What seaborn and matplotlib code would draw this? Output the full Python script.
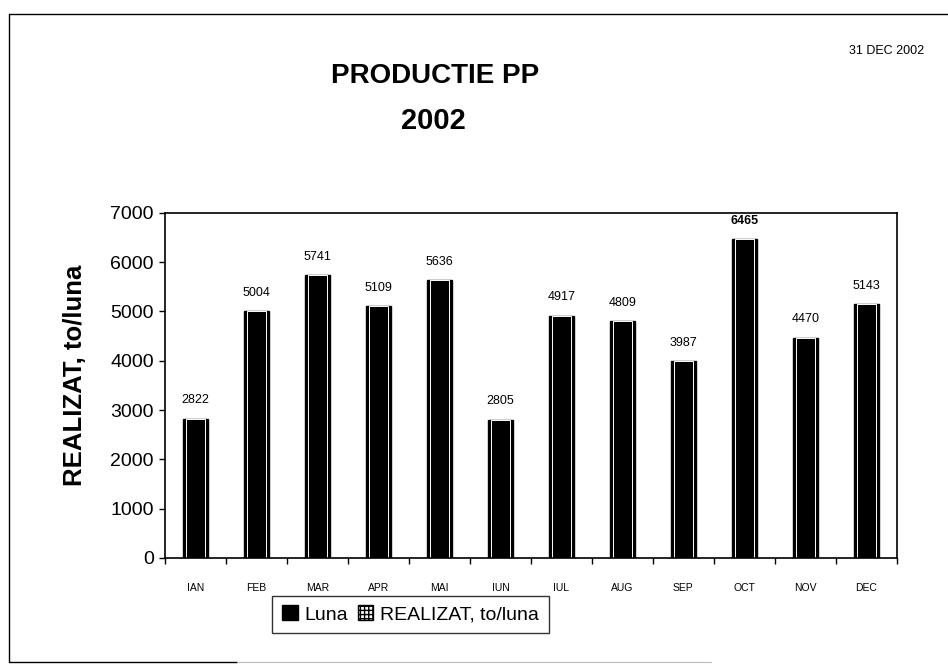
import matplotlib
matplotlib.use("Agg")
import matplotlib.pyplot as plt
import matplotlib.patches as mpatches
import matplotlib.lines as mlines
import seaborn as sns
import pandas as pd
import numpy as np

months = ["IAN", "FEB", "MAR", "APR", "MAI", "IUN", "IUL", "AUG", "SEP", "OCT", "NOV", "DEC"]
values = [2822, 5004, 5741, 5109, 5636, 2805, 4917, 4809, 3987, 6465, 4470, 5143]
labels = ["2822", "5004", "5741", "5109", "5636", "2805", "4917", "4809", "3987", "6465", "4470", "5143"]
y_ticks = [0, 1000, 2000, 3000, 4000, 5000, 6000, 7000]

sns.set_style("white")
plt.rcParams['font.family'] = ['Liberation Sans', 'DejaVu Sans']
plt.rcParams['text.color'] = 'black'
plt.rcParams['axes.labelcolor'] = 'black'
plt.rcParams['xtick.color'] = 'black'
plt.rcParams['ytick.color'] = 'black'

df = pd.DataFrame({"Luna": months, "REALIZAT": values})

fig = plt.figure(figsize=(9.48, 6.65), dpi=100)
ax = fig.add_axes([0.174, 0.161, 0.772, 0.519])

sns.barplot(data=df, x="Luna", y="REALIZAT", color="black", width=0.41,
            edgecolor="black", linewidth=1.0, saturation=1, ax=ax)
# inner white outline
sns.barplot(data=df, x="Luna", y="REALIZAT", width=0.31, fill=False,
            edgecolor="white", linewidth=0.7, ax=ax)

ax.set_ylim(0, 7000)
ax.set_xlim(-0.5, len(months) - 0.5)
ax.set_yticks(y_ticks)
ax.set_yticklabels([str(t) for t in y_ticks], fontsize=14)
ax.set_xticks(range(len(months)))
ax.set_xticklabels(months, fontsize=7.5)
ax.tick_params(axis="x", length=0, pad=18)
ax.tick_params(axis="y", length=4, width=1, direction="out", left=True, pad=4)
# category boundary ticks
ax.set_xticks(np.arange(-0.5, len(months) + 0.5, 1), minor=True)
ax.tick_params(axis="x", which="minor", length=4, width=1, direction="out", bottom=True)

for s in ax.spines.values():
    s.set_color("black")
    s.set_linewidth(1.2)

ax.set_xlabel("")
ax.set_ylabel("REALIZAT, to/luna", fontsize=18.5, fontweight="bold")
ax.yaxis.set_label_coords(-0.106, 0.53)

for i, (v, t) in enumerate(zip(values, labels)):
    ax.text(i, v + 250, t, ha="center", va="bottom", fontsize=9,
            fontweight="bold" if t == "6465" else "normal")

fig.text(0.459, 0.886, "PRODUCTIE PP", ha="center", va="center", fontsize=20, fontweight="bold")
fig.text(0.457, 0.818, "2002", ha="center", va="center", fontsize=21, fontweight="bold")
fig.text(0.935, 0.924, "31 DEC 2002", ha="center", va="center", fontsize=9)

# legend
h1 = mpatches.Patch(facecolor="black", edgecolor="black", label="Luna")
h2 = mpatches.Patch(facecolor="white", edgecolor="black", hatch="++++", label="REALIZAT, to/luna")
leg = fig.legend(handles=[h1, h2], loc="center", bbox_to_anchor=(0.433, 0.076), ncol=2,
                 fontsize=14, frameon=True, fancybox=False, edgecolor="black",
                 handlelength=0.8, handleheight=0.8, handletextpad=0.35, columnspacing=0.5,
                 borderpad=0.5)
leg.get_frame().set_linewidth(1.0)

# outer frame (left, top, bottom)
fig.add_artist(mlines.Line2D([0.009, 0.009], [0.005, 0.979], transform=fig.transFigure,
                             color="black", linewidth=1.0))
fig.add_artist(mlines.Line2D([0.009, 1.0], [0.979, 0.979], transform=fig.transFigure,
                             color="black", linewidth=1.0))
fig.add_artist(mlines.Line2D([0.009, 0.25], [0.005, 0.005], transform=fig.transFigure,
                             color="black", linewidth=1.0))
fig.add_artist(mlines.Line2D([0.25, 0.75], [0.005, 0.005], transform=fig.transFigure,
                             color="#bbbbbb", linewidth=0.8))

fig.savefig("out.png", dpi=100)
